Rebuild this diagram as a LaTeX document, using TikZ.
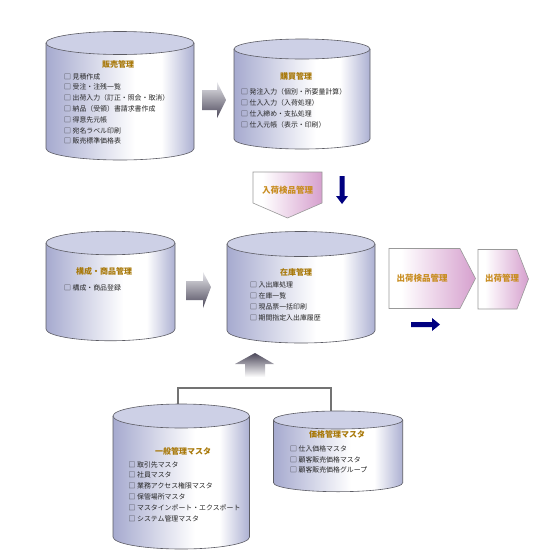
\documentclass[tikz,border=0pt]{standalone}
\usepackage{fontspec}
\newfontfamily\jp{Noto Sans CJK JP}
\definecolor{cylL}{RGB}{166,170,207}
\definecolor{cylR}{RGB}{172,176,210}
\definecolor{cyltop}{RGB}{205,208,230}
\definecolor{cylline}{RGB}{92,92,100}
\definecolor{gold}{RGB}{168,120,8}
\definecolor{chevgold}{RGB}{200,140,30}
\definecolor{pinkR}{RGB}{214,160,206}
\definecolor{navy}{RGB}{0,0,128}
\definecolor{arrowD}{RGB}{76,72,90}
\definecolor{arrowL}{RGB}{232,232,236}
\pgfdeclarehorizontalshading{cylshade}{100bp}{color(0bp)=(cylL); color(25bp)=(cylL); color(55bp)=(white); color(64bp)=(white); color(75bp)=(cylR); color(100bp)=(cylR)}
\pgfdeclarehorizontalshading{chevshade}{100bp}{color(0bp)=(white); color(32bp)=(white); color(75bp)=(pinkR); color(100bp)=(pinkR)}
\newcommand\mycyl[6]{%
  \pgfmathsetmacro\myrx{(#2-#1)/2}%
  \pgfmathsetmacro\myxc{(#1+#2)/2}%
  \path[shading=cylshade] (#1,#3) -- (#1,#4) arc[start angle=180,end angle=0,x radius=\myrx,y radius=#5] -- (#2,#3) -- cycle;
  \draw[cylline,line width=0.6pt] (#1,#3) -- (#1,#4) arc[start angle=180,end angle=0,x radius=\myrx,y radius=#5] -- (#2,#3);
  \draw[cylline,fill=cyltop,line width=0.6pt] (\myxc,#3) ellipse[x radius=\myrx,y radius=#5];
  \coordinate (#6) at (\myxc,#3);
}
\tikzset{
  ttl/.style={font=\jp\bfseries\fontsize{8}{8}\selectfont,text=gold,inner sep=0pt},
  item/.style={font=\jp\fontsize{6.9}{6.9}\selectfont,text=black!85,anchor=west,inner sep=0pt},
  chevtxt/.style={font=\jp\bfseries\fontsize{8.5}{8.5}\selectfont,text=chevgold,inner sep=0pt},
  chev/.style={shading=chevshade,draw=gray!80,line width=0.6pt},
  grayarrow/.style={top color=arrowL,bottom color=arrowD,draw=none},
  uparrow/.style={top color=arrowD,bottom color=white,draw=none},
  navyarrow/.style={fill=navy,draw=none},
  bus/.style={draw=gray!90!black,line width=2pt}
}
\begin{document}
\begin{tikzpicture}[x=1pt,y=-1pt]
\useasboundingbox[fill=white] (0,0) rectangle (560,560);

% connector between master databases
\coordinate (genjoin) at (178,410);
\coordinate (pricejoin) at (331,416);
\coordinate (busline) at (0,388);
\draw[bus] (genjoin) |- (busline -| pricejoin) -- (pricejoin);

% cylinders
\mycyl{46}{194}{43}{148.5}{11.5}{hanbai}
\mycyl{234}{370}{49}{139}{10}{koubai}
\mycyl{46}{175}{243}{329}{11.75}{kousei}
\mycyl{227}{375}{244}{330.5}{12.5}{zaiko}
\mycyl{113}{249.5}{416}{537}{12}{ippan}
\mycyl{273.5}{402.7}{420}{482.7}{9}{kakaku}

% titles
\node[ttl] (t-hanbai) at (118,64.6) {販売管理};
\node[ttl] (t-koubai) at (296,76) {購買管理};
\node[ttl] (t-kousei) at (104,271.7) {構成・商品管理};
\node[ttl] (t-zaiko) at (296,272) {在庫管理};
\node[ttl] (t-ippan) at (183,451.5) {一般管理マスタ};
\node[ttl] (t-kakaku) at (337,434.7) {価格管理マスタ};

% items
\foreach \t [count=\i from 0] in {見積作成,受注・注残一覧,出荷入力（訂正・照会・取消）,納品（受領）書請求書作成,得意先元帳,宛名ラベル印刷,販売標準価格表}
  \node[item] (hb\i) at (64,{76.5+10.8*\i}) {□ \t};
\foreach \t [count=\i from 0] in {発注入力（個別・所要量計算）,仕入入力（入荷処理）,仕入締め・支払処理,仕入元帳（表示・印刷）}
  \node[item] (kb\i) at (241,{92+10.8*\i}) {□ \t};
\node[item] (ks0) at (64,288) {□ 構成・商品登録};
\foreach \t [count=\i from 0] in {入出庫処理,在庫一覧,現品票一括印刷,期間指定入出庫履歴}
  \node[item] (zk\i) at (250,{285.3+10.8*\i}) {□ \t};
\foreach \t [count=\i from 0] in {取引先マスタ,社員マスタ,業務アクセス権限マスタ,保管場所マスタ,マスタインポート・エクスポート,システム管理マスタ}
  \node[item] (ip\i) at (128.5,{464.5+10.8*\i}) {□ \t};
\foreach \t [count=\i from 0] in {仕入価格マスタ,顧客販売価格マスタ,顧客販売価格グループ}
  \node[item] (kk\i) at (290,{448.7+10.8*\i}) {□ \t};

% gray block arrows
\path[grayarrow] (202,90) -- (217,90) -- (217,82) -- (226,100) -- (217,118) -- (217,110) -- (202,110) -- cycle;
\path[grayarrow] (186,281) -- (203,281) -- (203,272) -- (211,287) -- (203,308) -- (203,300) -- (186,300) -- cycle;
\path[uparrow] (245,377) -- (245,364) -- (235,364) -- (255,353) -- (274,364) -- (265,364) -- (265,377) -- cycle;

% chevrons
\path[chev] (253,172) -- (322,172) -- (322,203) -- (287.5,218) -- (253,203) -- cycle;
\node[chevtxt] (nyuka) at (287.5,190) {入荷検品管理};
\path[chev] (389,248.5) -- (460,248.5) -- (475.5,278.5) -- (460,308.5) -- (389,308.5) -- cycle;
\node[chevtxt] (shukaken) at (422,278) {出荷検品管理};
\path[chev] (478,249.5) -- (517,249.5) -- (528.5,279) -- (517,309) -- (478,309) -- cycle;
\node[chevtxt] (shuka) at (502,278) {出荷管理};

% navy arrows
\path[navyarrow] (339.5,176) -- (344.5,176) -- (344.5,196) -- (348,196) -- (342,204) -- (336,196) -- (339.5,196) -- cycle;
\path[navyarrow] (411,322) -- (432,322) -- (432,318) -- (440,324.5) -- (432,331) -- (432,327) -- (411,327) -- cycle;
\end{tikzpicture}
\end{document}
